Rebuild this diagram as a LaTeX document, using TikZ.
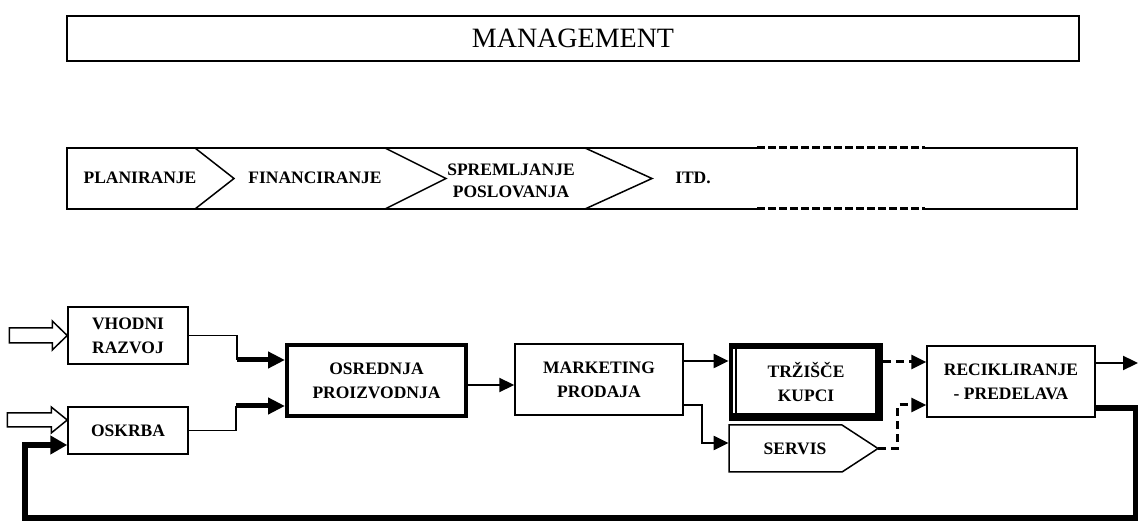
\documentclass[tikz,border=0pt]{standalone}
\usepackage{fontspec}
\setmainfont{Liberation Serif}
\usetikzlibrary{arrows.meta,calc}
\begin{document}
\begin{tikzpicture}[x=0.5pt,y=-0.5pt,
  lbl/.style={font=\fontsize{8.75}{12}\selectfont\bfseries, align=center, inner sep=0pt},
  box/.style={draw, line width=0.75pt, rectangle, lbl},
  conn/.style={line width=0.9pt},
  medarrow/.style={line width=1.1pt, -{Triangle[length=7.5pt,width=7pt]}},
  heavy/.style={line width=2.5pt, -{Triangle[length=8.5pt,width=8pt]}},
  dsh/.style={line width=1.5pt, dash pattern=on 4pt off 2.5pt, -{Triangle[length=7.5pt,width=7pt]}},
  fb/.style={line width=3pt, -{Triangle[length=8.5pt,width=9pt]}},
  hollow/.style={draw, line width=0.75pt, fill=white},
  barline/.style={line width=0.9pt},
  bardash/.style={line width=1.5pt, dash pattern=on 4pt off 1.5pt},
  chev/.style={line width=0.75pt},
]
\useasboundingbox (0,0) rectangle (1138,522);
\fill[white] (0,0) rectangle (1138,522);

% management
\node[draw, line width=1pt, minimum width=506pt, minimum height=22.5pt, inner sep=0pt,
      font=\fontsize{14}{16}\selectfont] (mgmt) at (573,38.5) {MANAGEMENT};

% process bar
\draw[barline] (757,148) -- (67,148) -- (67,209) -- (757,209);
\draw[barline] (925,148) -- (1077,148) -- (1077,209) -- (925,209);
\draw[bardash] (757,148) -- (925,148) (757,209) -- (925,209);
\draw[chev] (195,148) -- (234,178.5) -- (195,209);
\draw[chev] (385,148) -- (446,178.5) -- (385,209);
\draw[chev] (585,148) -- (652,178.5) -- (585,209);
\node[lbl] (plan) at (140,178) {PLANIRANJE};
\node[lbl] (fin) at (315,178) {FINANCIRANJE};
\node[lbl, font=\fontsize{8.75}{11}\selectfont\bfseries] (sprem) at (511,181) {SPREMLJANJE\\POSLOVANJA};
\node[lbl] (itd) at (693,178) {ITD.};

% lower boxes
\node[box, minimum width=60pt, minimum height=28.5pt] (vhodni) at (128,335.5) {VHODNI\\RAZVOJ};
\node[box, minimum width=60pt, minimum height=23.5pt] (oskrba) at (128,430.5) {OSKRBA};
\node[box, line width=2pt, minimum width=89.5pt, minimum height=35.5pt] (osred) at (376.5,380.5) {OSREDNJA\\PROIZVODNJA};
\node[box, minimum width=84pt, minimum height=35.5pt] (market) at (599,379.5) {MARKETING\\PRODAJA};

\fill (729,343) rectangle (883,421);
\fill[white] (733,349) rectangle (875,413);
\draw[line width=0.6pt] (736,349) -- (736,413);
\node[lbl, minimum width=77pt, minimum height=39pt] (trz) at (806,382) {TRŽIŠČE\\KUPCI};

\draw[line width=0.75pt] (729,425) -- (842,425) -- (878,448.5) -- (842,472) -- (729,472) -- cycle;
\node[lbl, minimum width=66pt, minimum height=23.5pt] (servis) at (795,448.5) {SERVIS};
\coordinate (servtip) at (878,448.5);

\node[box, minimum width=84pt, minimum height=35.5pt] (recik) at (1011,381.5) {RECIKLIRANJE\\- PREDELAVA};
\coordinate (outr) at (1138,363);

% hollow input arrows
\draw[hollow] (vhodni.west) -- ++(-15,-14.5) -- ++(0,7) -- ++(-43,0) -- ++(0,15) -- ++(43,0) -- ++(0,7) -- cycle;
\draw[hollow] ($(oskrba.west)+(0,-10.5)$) -- ++(-16,-13) -- ++(0,6) -- ++(-44,0) -- ++(0,14) -- ++(44,0) -- ++(0,6) -- cycle;

% connectors
\draw[conn] (vhodni.east) -| ($(osred.west)+(-48,-20.5)$);
\draw[heavy] ($(osred.west)+(-48,-20.5)$) -- ($(osred.west)+(0,-20.5)$);
\draw[conn] (oskrba.east) -| ($(osred.west)+(-49,25.5)$);
\draw[heavy] ($(osred.west)+(-49,25.5)$) -- ($(osred.west)+(0,25.5)$);
\draw[medarrow] ($(osred.east)+(0,4.5)$) -- ($(market.west)+(0,5.5)$);
\draw[medarrow] ($(market.east)+(0,-18.5)$) -- ($(trz.west)+(0,-21)$);
\draw[medarrow] ($(market.east)+(0,25.5)$) -| ($(servis.west)+(-27,-5.5)$) -- ($(servis.west)+(0,-5.5)$);
\draw[dsh] ($(trz.east)+(0,-20)$) -- ($(recik.west)+(0,-19.5)$);
\draw[dsh] (servtip) -| ($(recik.west)+(-29,23.5)$) -- ($(recik.west)+(0,23.5)$);
\draw[medarrow] ($(recik.east)+(0,-18.5)$) -- (outr);
\draw[fb] ($(recik.east)+(0,26.5)$) -| (1136,518) -| (25,445) -- ($(oskrba.west)+(0,14.5)$);
\end{tikzpicture}
\end{document}
